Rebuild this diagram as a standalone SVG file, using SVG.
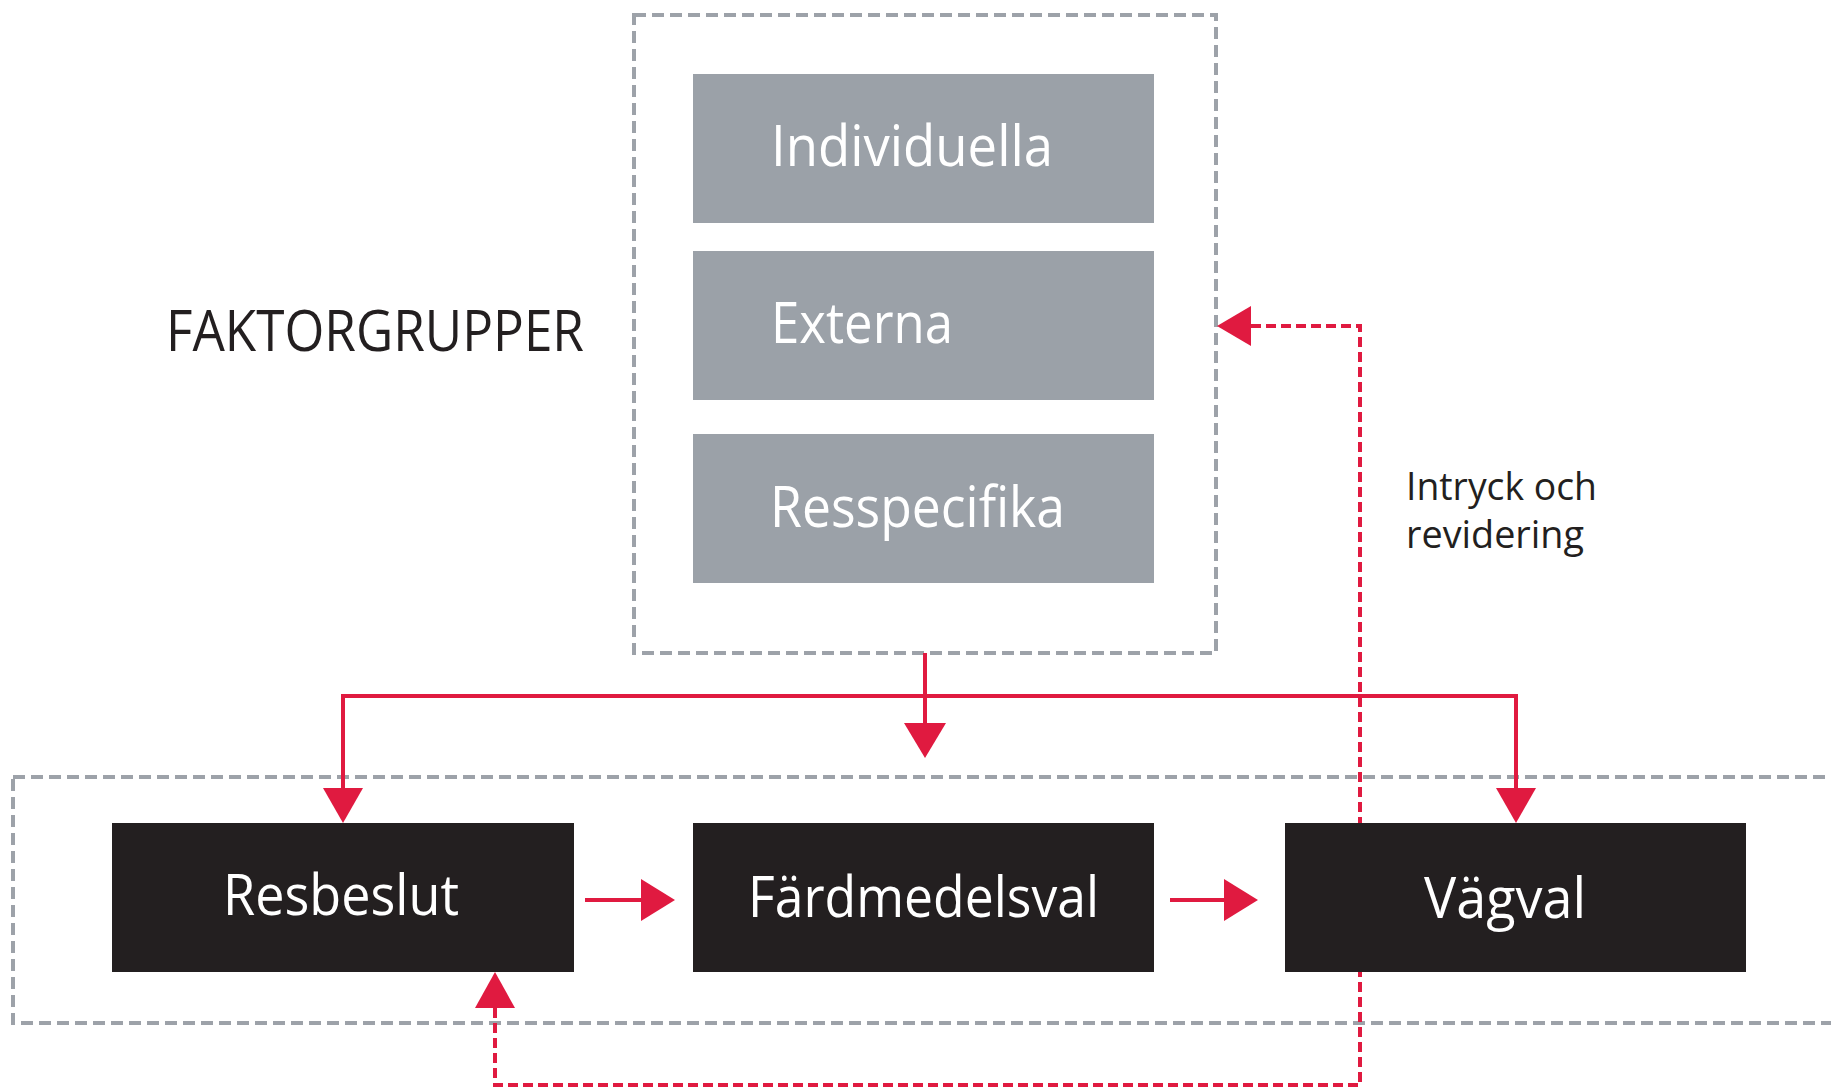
<svg xmlns="http://www.w3.org/2000/svg" width="1831" height="1088" viewBox="0 0 1831 1088">
<style>
.frame{fill:none;stroke:#9da2a9;stroke-width:4;stroke-dasharray:12 6}
.gbox{fill:#9ba1a8}
.bbox{fill:#231f20}
.wt{fill:#ffffff;font-family:"Open Sans","Noto Sans",sans-serif;font-size:56px}
.dt{fill:#231f20;font-family:"Open Sans","Noto Sans",sans-serif}
.solid{fill:none;stroke:#e01a40;stroke-width:4}
.dash{fill:none;stroke:#e01a40;stroke-width:4;stroke-dasharray:10 5}
.head{fill:#e01a40}
</style>
<rect width="1831" height="1088" fill="#ffffff"/>
<g id="faktorgrupper-frame">
<rect class="frame" x="634" y="15" width="582" height="638"/>
<text class="dt" x="166" y="351" font-size="56" textLength="418" lengthAdjust="spacingAndGlyphs">FAKTORGRUPPER</text>
</g>
<g id="process-frame">
<rect class="frame" x="13" y="777" width="1840" height="246"/>
</g>
<g id="connectors">
<path class="dash" d="M495,1008 V1085 H1360 V326 H1251"/>
<polygon class="head" points="1217,326 1251,306 1251,346"/>
<polygon class="head" points="495,972 475,1008 515,1008"/>
<path class="solid" d="M925,653 V724"/>
<polygon class="head" points="925,758 904,723 946,723"/>
<path class="solid" d="M343,789 V696 H1516 V789"/>
<polygon class="head" points="343,823 323,788 363,788"/>
<polygon class="head" points="1516,823 1496,788 1536,788"/>
<path class="solid" d="M585,900 H643"/>
<polygon class="head" points="675,900 641,879 641,921"/>
<path class="solid" d="M1170,900 H1226"/>
<polygon class="head" points="1258,900 1224,879 1224,921"/>
<text class="dt" font-size="38"><tspan x="1406" y="500" textLength="191" lengthAdjust="spacingAndGlyphs">Intryck och</tspan><tspan x="1406" y="548" textLength="178" lengthAdjust="spacingAndGlyphs">revidering</tspan></text>
</g>
<g id="individuella">
<rect class="gbox" x="693" y="74" width="461" height="149"/>
<text class="wt" x="771" y="166" textLength="282" lengthAdjust="spacingAndGlyphs">Individuella</text>
</g>
<g id="externa">
<rect class="gbox" x="693" y="251" width="461" height="149"/>
<text class="wt" x="771" y="343" textLength="182" lengthAdjust="spacingAndGlyphs">Externa</text>
</g>
<g id="resspecifika">
<rect class="gbox" x="693" y="434" width="461" height="149"/>
<text class="wt" x="770" y="527" textLength="295" lengthAdjust="spacingAndGlyphs">Resspecifika</text>
</g>
<g id="resbeslut">
<rect class="bbox" x="112" y="823" width="462" height="149"/>
<text class="wt" x="223" y="915" textLength="236" lengthAdjust="spacingAndGlyphs">Resbeslut</text>
</g>
<g id="fardmedelsval">
<rect class="bbox" x="693" y="823" width="461" height="149"/>
<text class="wt" x="748" y="917" textLength="351" lengthAdjust="spacingAndGlyphs">Färdmedelsval</text>
</g>
<g id="vagval">
<rect class="bbox" x="1285" y="823" width="461" height="149"/>
<text class="wt" x="1424" y="918" textLength="162" lengthAdjust="spacingAndGlyphs">Vägval</text>
</g>
</svg>
